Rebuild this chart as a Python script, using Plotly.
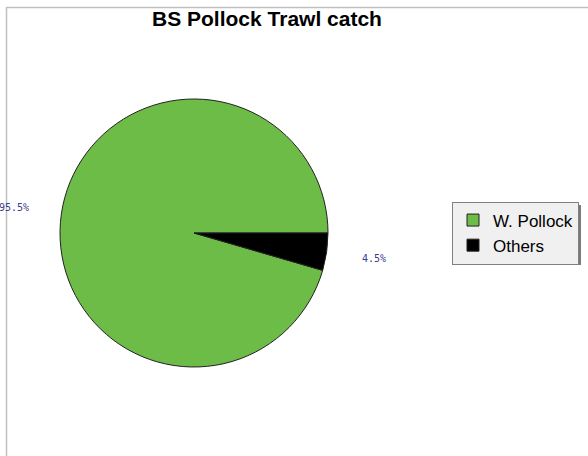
import math
import plotly.graph_objects as go

# ---- data ----
categories = ["W. Pollock", "Others"]
values = [95.5, 4.5]
colors = ["#6cbc47", "#000000"]
title_text = "BS Pollock Trawl catch"

W, H = 588, 456

# pie placement (pixels)
cx_px, cy_px, r_px = 194, 233, 134
dom_x = [(cx_px - r_px) / W, (cx_px + r_px) / W]
dom_y = [1 - (cy_px + r_px) / H, 1 - (cy_px - r_px) / H]

total = sum(values)
# first slice drawn clockwise so the last slice ends at 3 o'clock
rotation = 90 + 360.0 * values[-1] / total

fig = go.Figure()
fig.add_trace(go.Pie(
    labels=categories,
    values=values,
    marker=dict(colors=colors, line=dict(color="#222222", width=1)),
    sort=False,
    direction="clockwise",
    rotation=rotation,
    textinfo="none",
    hoverinfo="label+percent",
    domain=dict(x=dom_x, y=dom_y),
    showlegend=True,
))

# percentage labels placed outside along each slice's mid-angle
label_r = r_px * 1.36
start = 0.0  # math degrees from 3 o'clock, counterclockwise
annotations = []
for v in values:
    sweep = 360.0 * v / total
    mid = math.radians(start + sweep / 2)
    px = cx_px + label_r * math.cos(mid)
    py = cy_px - label_r * math.sin(mid)
    annotations.append(dict(
        x=px / W, y=1 - py / H, xref="paper", yref="paper",
        text=f"{100 * v / total:.1f}%", showarrow=False,
        xanchor="center", yanchor="middle",
        font=dict(family="DejaVu Sans Mono", size=10, color="#3b3b8f"),
    ))
    start += sweep

# legend box (pixels) for its drop shadow
lg_l, lg_r, lg_t, lg_b = 452, 579, 203, 263

shapes = [
    dict(type="line", xref="paper", yref="paper",
         x0=6.5 / W, x1=6.5 / W, y0=0, y1=1 - 7 / H,
         line=dict(color="#c0c0c0", width=1.5)),
    dict(type="line", xref="paper", yref="paper",
         x0=6 / W, x1=1, y0=1 - 7.5 / H, y1=1 - 7.5 / H,
         line=dict(color="#c0c0c0", width=1.5)),
    dict(type="rect", xref="paper", yref="paper",
         x0=(lg_l + 2) / W, x1=(lg_r + 2) / W,
         y0=1 - (lg_b + 2) / H, y1=1 - (lg_t + 2) / H,
         fillcolor="#7a7a7a", line=dict(width=0), layer="above"),
]

fig.update_layout(
    width=W, height=H,
    margin=dict(l=0, r=0, t=0, b=0),
    paper_bgcolor="white",
    plot_bgcolor="white",
    title=dict(text=f"<b>{title_text}</b>", x=267 / W, xanchor="center",
               y=1 - 19 / H, yanchor="middle",
               font=dict(family="Liberation Sans, Arial", size=21, color="black")),
    legend=dict(x=lg_l / W, y=1 - 233 / H, xanchor="left", yanchor="middle",
                bgcolor="#f0f0f0", bordercolor="#808080", borderwidth=1,
                font=dict(family="Liberation Sans, Arial", size=17, color="black"),
                itemwidth=30, tracegroupgap=0),
    annotations=annotations,
    shapes=shapes,
)

fig.write_html("out.html", config={"displayModeBar": False},
               post_script="document.body.style.margin='0';")
